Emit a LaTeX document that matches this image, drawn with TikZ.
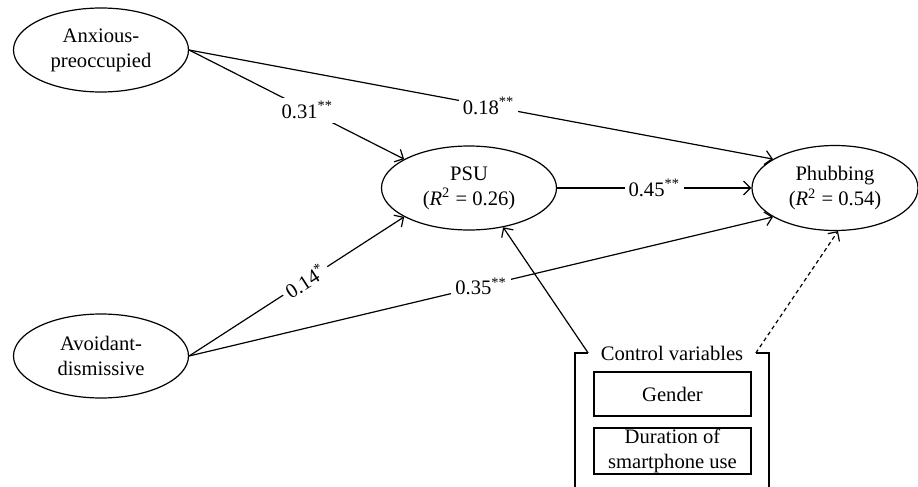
\documentclass[tikz,border=0pt]{standalone}
\usepackage{fontspec}
\setmainfont{Liberation Serif}
\usetikzlibrary{shapes.geometric,arrows.meta}

\begin{document}
\begin{tikzpicture}[x=0.5pt,y=-0.5pt,line width=0.6pt,
		font=\fontsize{10.3}{12.5}\selectfont,
		>={Straight Barb[length=3.5pt,width=7pt]},
		latent/.style={draw,ellipse,align=center,inner sep=0pt,minimum width=87.5pt,minimum height=42pt},
		ctrlbox/.style={draw,align=center,inner sep=0pt,minimum width=78.5pt},
		coef/.style={fill=white,inner sep=2pt},
		link/.style={->}]
		\useasboundingbox (0,0) rectangle (918,487);
		% latent variables
		\node[latent] (anx) at (101,50) {Anxious-\\preoccupied};
		\node[latent] (avo) at (101,356) {Avoidant-\\dismissive};
		\node[latent] (psu) at (469,188) {PSU\\({\itshape R}\textsuperscript{2} = 0.26)};
		\node[latent,minimum width=83pt,minimum height=42.5pt] (phub) at (835,188) {Phubbing\\({\itshape R}\textsuperscript{2} = 0.54)};
		% control variables
		\node[inner xsep=6pt,inner ysep=1pt] (ctrl) at (672,353) {Control variables};
		\node[ctrlbox,minimum height=22pt] (gender) at (672.5,394) {Gender};
		\node[ctrlbox,minimum height=23pt] (dur) at (672.5,451) {Duration of\\smartphone use};
		\coordinate (frl) at (575,487);
		\coordinate (frr) at (769,487);
		\draw (frl) |- (ctrl.west);
		\draw (frr) |- (ctrl.east);
		% paths
		\draw[link] (anx.east) -- (psu.156) node[coef,pos=0.55] {0.31\textsuperscript{**}};
		\draw[link] (anx.east) -- (phub.155) node[coef,pos=0.513] {0.18\textsuperscript{**}};
		\draw[link] (psu.east) -- (phub.west) node[coef,midway] {0.45\textsuperscript{**}};
		\draw[link] (avo.east) -- (psu.204) node[coef,sloped,pos=0.54] {0.14\textsuperscript{*}};
		\draw[link] (avo.east) -- (phub.205) node[coef,pos=0.5] {0.35\textsuperscript{**}};
		\draw[link] (ctrl.west) -- (psu.311);
		\draw[link,dash pattern=on 2pt off 1.6pt] (ctrl.east) -- (phub.274);
	\end{tikzpicture}
\end{document}
